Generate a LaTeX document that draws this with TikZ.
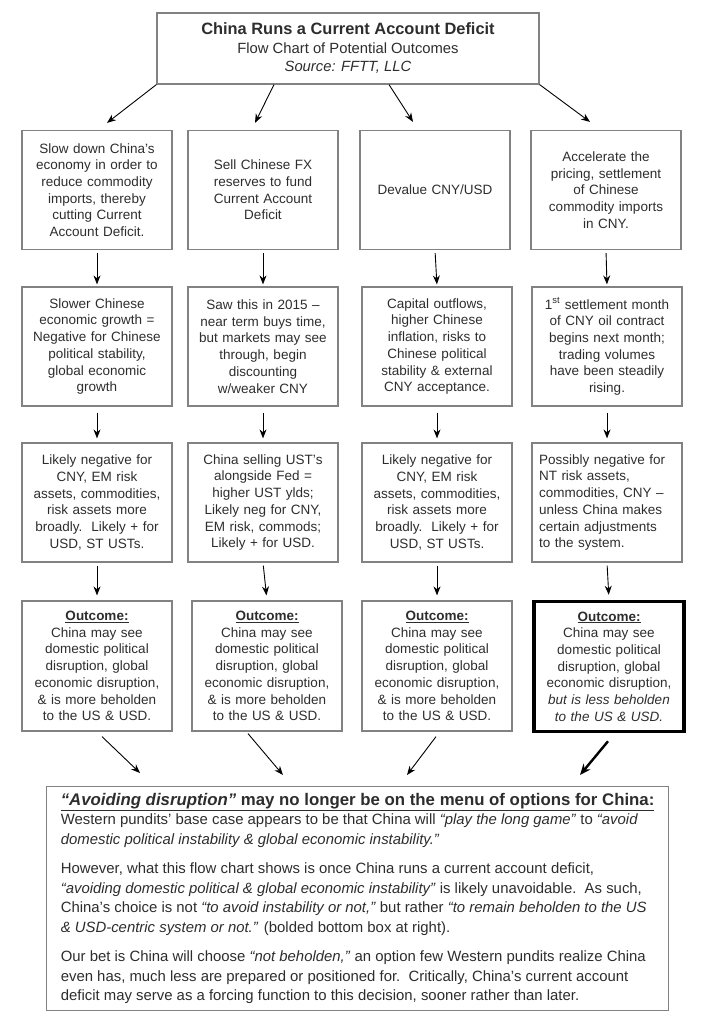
\documentclass[tikz,border=0pt]{standalone}
\usepackage{fontspec}
\setmainfont{Liberation Sans}
\usepackage{tikz}
\usetikzlibrary{positioning, calc, arrows.meta}
\definecolor{inkgray}{RGB}{45,45,45}
\definecolor{framegray}{RGB}{130,130,130}

\begin{document}
\begin{tikzpicture}[x=1pt, y=-1pt,
  box/.style={draw=framegray, line width=1.2pt, text=inkgray, align=center,
    text width=140pt, minimum width=150pt, inner sep=0pt,
    font=\fontsize{13.5}{16.7}\selectfont},
  stepbox/.style={box, minimum height=119pt},
  outbox/.style={box, minimum height=130pt},
  arr/.style={-{Stealth[length=9pt, width=7pt]}, line width=0.9pt, black},
  thickarr/.style={-{Stealth[length=11pt, width=9pt]}, line width=2.4pt, black}]
  \useasboundingbox (0,0) rectangle (709,1024);

  \node[draw=framegray, line width=1.2pt, text=inkgray, align=center,
    minimum width=382pt, minimum height=71pt, inner sep=0pt,
    font=\fontsize{14.8}{19}\selectfont] (top) at (348,48.5)
    {{\fontsize{16.4}{19}\selectfont\bfseries China Runs a Current Account Deficit}\\[0pt]
     Flow Chart of Potential Outcomes\\[-1pt]
     \textit{Source: FFTT, LLC}};

  \node[stepbox] (s1) at (97,190) {Slow down China’s\\economy in order to\\reduce commodity\\imports, thereby\\cutting Current\\Account Deficit.};
  \node[stepbox] (s2) at (263,190) {Sell Chinese FX\\reserves to fund\\Current Account\\Deficit};
  \node[stepbox] (s3) at (435,190) {Devalue CNY/USD};
  \node[stepbox] (s4) at (606,190) {Accelerate the\\pricing, settlement\\of Chinese\\commodity imports\\in CNY.};

  \node[stepbox] (e1) at (97,346.5) {Slower Chinese\\economic growth =\\Negative for Chinese\\political stability,\\global economic\\growth};
  \node[stepbox] (e2) at (263,346.5) {Saw this in 2015 –\\near term buys time,\\but markets may see\\through, begin\\discounting\\w/weaker CNY};
  \node[stepbox] (e3) at (437,346.5) {Capital outflows,\\higher Chinese\\inflation, risks to\\Chinese political\\stability \& external\\CNY acceptance.};
  \node[stepbox] (e4) at (607,346.5) {1\textsuperscript{st} settlement month\\of CNY oil contract\\begins next month;\\trading volumes\\have been steadily\\rising.};

  \node[stepbox] (m1) at (97,502.5) {Likely negative for\\CNY, EM risk\\assets, commodities,\\risk assets more\\broadly.\ \ Likely + for\\USD, ST USTs.};
  \node[stepbox] (m2) at (263,502.5) {China selling UST’s\\alongside Fed =\\higher UST ylds;\\Likely neg for CNY,\\EM risk, commods;\\Likely + for USD.};
  \node[stepbox] (m3) at (437,502.5) {Likely negative for\\CNY, EM risk\\assets, commodities,\\risk assets more\\broadly.\ \ Likely + for\\USD, ST USTs.};
  \node[stepbox, align=left, text width=136pt] (m4) at (607,502.5) {Possibly negative for\\NT risk assets,\\commodities, CNY –\\unless China makes\\certain adjustments\\to the system.};

  \node[outbox] (o1) at (97,666) {\underline{\textbf{Outcome:}}\\China may see\\domestic political\\disruption, global\\economic disruption,\\\& is more beholden\\to the US \& USD.};
  \node[outbox] (o2) at (267,666) {\underline{\textbf{Outcome:}}\\China may see\\domestic political\\disruption, global\\economic disruption,\\\& is more beholden\\to the US \& USD.};
  \node[outbox] (o3) at (437,666) {\underline{\textbf{Outcome:}}\\China may see\\domestic political\\disruption, global\\economic disruption,\\\& is more beholden\\to the US \& USD.};
  \node[outbox, draw=black, line width=3.5pt] (o4) at (609,666.5) {\underline{\textbf{Outcome:}}\\China may see\\domestic political\\disruption, global\\economic disruption,\\\textit{but is less beholden}\\\textit{to the US \& USD.}};

  \node[draw=framegray, line width=1.2pt, text=inkgray, align=left, anchor=north west,
    minimum width=622pt, minimum height=224pt, inner xsep=9pt, inner ysep=5pt,
    font=\fontsize{14.9}{19.5}\selectfont] (menu) at (46,786)
    {{\fontsize{16.8}{19.5}\selectfont\bfseries\underline{\textit{“Avoiding disruption”} may no longer be on the menu of options for China:}}\\
     Western pundits’ base case appears to be that China will \textit{“play the long game”} to \textit{“avoid}\\
     \textit{domestic political instability \& global economic instability.”}\\[10pt]
     However, what this flow chart shows is once China runs a current account deficit,\\
     \textit{“avoiding domestic political \& global economic instability”} is likely unavoidable.\ \ As such,\\
     China’s choice is not \textit{“to avoid instability or not,”} but rather \textit{“to remain beholden to the US}\\
     \textit{\& USD-centric system or not.”} (bolded bottom box at right).\\[10pt]
     Our bet is China will choose \textit{“not beholden,”} an option few Western pundits realize China\\
     even has, much less are prepared or positioned for.\ \ Critically, China’s current account\\
     deficit may serve as a forcing function to this decision, sooner rather than later.};

  \draw[arr] (top.south west) -- ($(s1.north)+(10,-7)$);
  \draw[arr] ($(top.south)+(-74,0)$) -- ($(s2.north)+(-8,-7)$);
  \draw[arr] ($(top.south)+(41,0)$) -- ($(s3.north)+(-22,-8)$);
  \draw[arr] (top.south east) -- ($(s4.north)+(-16,-8)$);

  \foreach \c in {1,...,4}{
    \draw[arr, shorten <=3pt, shorten >=2pt] (s\c.south) -- (e\c.north);
    \draw[arr, shorten <=6pt, shorten >=4pt] (e\c.south) -- (m\c.north);
    \draw[arr, shorten <=3pt, shorten >=5pt] (m\c.south) -- (o\c.north);
  }

  \draw[arr] ($(o1.south)+(5,5)$) -- ($(menu.north west)+(94,-13)$);
  \draw[arr] ($(o2.south)+(-19,2)$) -- ($(menu.north west)+(237,-11)$);
  \draw[arr] ($(o3.south)+(-1,5)$) -- ($(menu.north west)+(361,-11)$);
  \draw[thickarr] ($(o4.south)+(-1,8)$) -- ($(menu.north west)+(534,-11)$);
\end{tikzpicture}
\end{document}
